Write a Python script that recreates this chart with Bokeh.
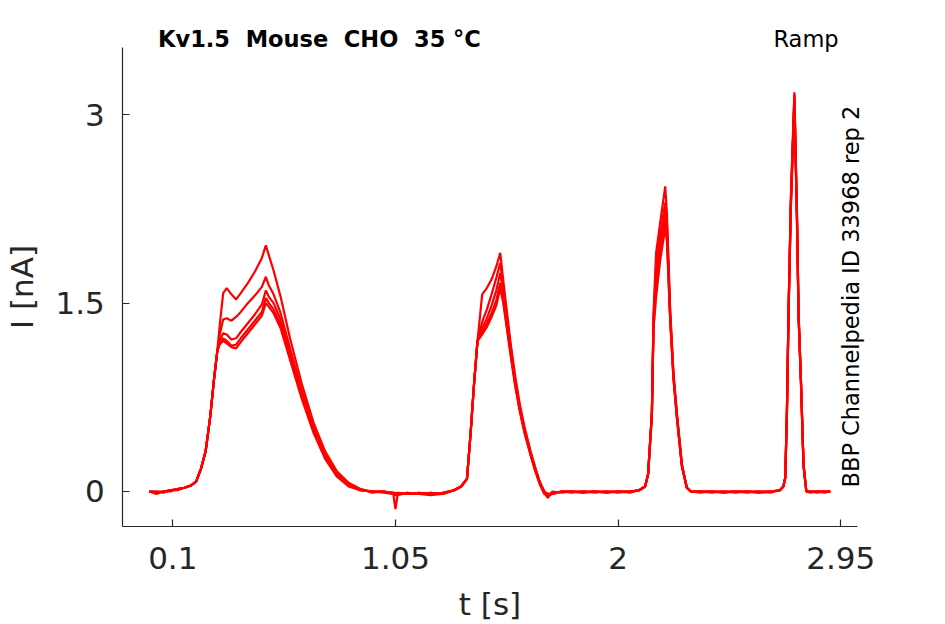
from bokeh.plotting import figure
from bokeh.models import Range1d, Label, FixedTicker
from bokeh.embed import file_html
from bokeh.resources import INLINE

# ---- data (time in s, current in nA) ----
T = [0.00, 0.03, 0.06, 0.09, 0.12, 0.15, 0.18, 0.20, 0.22, 0.24, 0.26, 0.275, 0.29,
     0.30, 0.315, 0.33, 0.35, 0.37, 0.39, 0.42, 0.45, 0.48, 0.497, 0.51, 0.53, 0.56,
     0.60, 0.65, 0.70, 0.75, 0.80, 0.85, 0.90, 0.95,
     1.00, 1.04, 1.05, 1.06, 1.10, 1.15, 1.20, 1.25, 1.30, 1.33, 1.355, 1.37, 1.385, 1.40,
     1.42, 1.44, 1.46, 1.48, 1.497, 1.51, 1.54, 1.56, 1.58, 1.60, 1.625, 1.645, 1.665,
     1.685, 1.70, 1.72, 1.76,
     1.80, 1.85, 1.90, 1.95, 2.00, 2.05, 2.09, 2.115, 2.128, 2.144, 2.151, 2.162, 2.18,
     2.201, 2.208, 2.222, 2.236, 2.251, 2.272, 2.293, 2.31, 2.35,
     2.40, 2.45, 2.50, 2.55, 2.60, 2.65, 2.69, 2.705, 2.713, 2.72, 2.727, 2.737, 2.752,
     2.763, 2.77, 2.78, 2.791, 2.803, 2.82, 2.85, 2.88, 2.905]

I_A = [0.00, -0.02, 0.00, 0.01, 0.02, 0.03, 0.05, 0.08, 0.18, 0.32, 0.60, 0.88, 1.12,
       1.32, 1.58, 1.62, 1.57, 1.53, 1.58, 1.66, 1.75, 1.86, 1.96, 1.88, 1.76, 1.55,
       1.22, 0.86, 0.55, 0.32, 0.16, 0.07, 0.02, 0.00,
       0.00, -0.01, -0.14, -0.01, -0.02, -0.01, -0.02, -0.01, 0.01, 0.04, 0.10, 0.45, 0.85, 1.20,
       1.57, 1.62, 1.69, 1.79, 1.90, 1.68, 1.20, 0.93, 0.70, 0.52, 0.33, 0.20, 0.08,
       0.00, -0.04, -0.01, 0.00,
       0.00, -0.01, 0.00, 0.00, -0.01, 0.00, 0.01, 0.04, 0.14, 0.62, 1.42, 1.90, 2.15,
       2.43, 2.22, 1.45, 0.95, 0.62, 0.22, 0.03, 0.00, -0.01,
       0.00, -0.01, 0.00, 0.00, -0.01, 0.00, 0.01, 0.04, 0.11, 0.62, 1.42, 2.35, 3.18,
       2.22, 1.42, 0.89, 0.22, 0.00, 0.00, -0.01, 0.00, 0.00]

I_B = [0.00, -0.01, 0.00, 0.01, 0.02, 0.03, 0.05, 0.08, 0.18, 0.32, 0.60, 0.88, 1.12,
       1.25, 1.37, 1.38, 1.36, 1.39, 1.43, 1.50, 1.56, 1.63, 1.71, 1.64, 1.57, 1.42,
       1.14, 0.81, 0.52, 0.30, 0.14, 0.06, 0.02, -0.01,
       0.00, -0.02, -0.03, -0.02, -0.02, -0.02, -0.01, -0.02, 0.01, 0.04, 0.10, 0.45, 0.85, 1.20,
       1.35, 1.45, 1.57, 1.70, 1.82, 1.63, 1.17, 0.90, 0.68, 0.50, 0.32, 0.19, 0.08,
       -0.01, -0.03, -0.02, 0.00,
       -0.01, 0.00, 0.00, -0.01, 0.00, 0.00, 0.01, 0.04, 0.14, 0.62, 1.38, 1.80, 2.05,
       2.30, 2.15, 1.42, 0.93, 0.60, 0.21, 0.03, 0.00, 0.00,
       -0.01, 0.00, 0.00, -0.01, 0.00, 0.00, 0.01, 0.04, 0.11, 0.62, 1.42, 2.32, 3.16,
       2.20, 1.40, 0.88, 0.21, 0.00, -0.01, 0.00, 0.00, 0.00]

I_C = [0.00, 0.00, -0.01, 0.01, 0.02, 0.03, 0.05, 0.08, 0.18, 0.32, 0.60, 0.88, 1.12,
       1.20, 1.26, 1.25, 1.21, 1.22, 1.27, 1.34, 1.41, 1.49, 1.60, 1.55, 1.50, 1.37,
       1.10, 0.78, 0.50, 0.28, 0.13, 0.05, 0.01, 0.00,
       -0.01, -0.02, -0.02, -0.03, -0.01, -0.02, -0.03, -0.02, 0.01, 0.04, 0.10, 0.45, 0.85, 1.20,
       1.30, 1.38, 1.48, 1.60, 1.74, 1.58, 1.14, 0.88, 0.66, 0.49, 0.31, 0.18, 0.07,
       -0.01, -0.05, 0.00, -0.01,
       0.00, 0.00, -0.01, 0.00, 0.00, -0.01, 0.01, 0.04, 0.14, 0.62, 1.35, 1.70, 1.98,
       2.24, 2.10, 1.40, 0.92, 0.60, 0.21, 0.03, 0.00, 0.00,
       0.00, 0.00, -0.01, 0.00, 0.00, -0.01, 0.01, 0.04, 0.11, 0.62, 1.42, 2.30, 3.14,
       2.18, 1.40, 0.88, 0.21, 0.00, 0.00, 0.00, -0.01, 0.00]

I_D = [0.00, -0.01, 0.00, 0.00, 0.02, 0.03, 0.05, 0.08, 0.18, 0.32, 0.60, 0.88, 1.12,
       1.18, 1.22, 1.20, 1.16, 1.17, 1.22, 1.29, 1.36, 1.43, 1.54, 1.50, 1.45, 1.33,
       1.07, 0.76, 0.48, 0.27, 0.12, 0.05, 0.01, 0.00,
       0.00, -0.01, -0.02, -0.01, -0.02, -0.01, -0.02, -0.01, 0.01, 0.04, 0.10, 0.45, 0.85, 1.20,
       1.27, 1.34, 1.42, 1.52, 1.66, 1.52, 1.12, 0.86, 0.65, 0.48, 0.30, 0.18, 0.07,
       0.00, -0.02, -0.01, 0.00,
       0.00, -0.01, 0.00, 0.00, 0.00, 0.00, 0.01, 0.04, 0.14, 0.62, 1.32, 1.60, 1.90,
       2.16, 2.05, 1.38, 0.90, 0.58, 0.20, 0.03, 0.00, 0.00,
       0.00, -0.01, 0.00, 0.00, 0.00, 0.00, 0.01, 0.04, 0.11, 0.62, 1.42, 2.28, 3.12,
       2.16, 1.38, 0.87, 0.20, 0.00, 0.00, 0.00, 0.00, 0.00]

I_E = [0.00, 0.00, 0.00, 0.01, 0.01, 0.03, 0.05, 0.08, 0.18, 0.32, 0.60, 0.88, 1.12,
       1.17, 1.20, 1.18, 1.15, 1.14, 1.19, 1.26, 1.33, 1.40, 1.50, 1.47, 1.42, 1.30,
       1.05, 0.74, 0.47, 0.26, 0.12, 0.04, 0.01, 0.00,
       0.00, -0.01, -0.01, -0.02, -0.01, -0.02, -0.01, -0.02, 0.01, 0.04, 0.10, 0.45, 0.85, 1.20,
       1.25, 1.31, 1.39, 1.48, 1.62, 1.50, 1.10, 0.85, 0.64, 0.47, 0.30, 0.17, 0.06,
       -0.02, -0.03, -0.02, 0.00,
       0.00, 0.00, 0.00, -0.01, 0.00, 0.00, 0.01, 0.04, 0.14, 0.62, 1.30, 1.55, 1.85,
       2.10, 2.00, 1.36, 0.90, 0.58, 0.20, 0.03, 0.00, 0.00,
       0.00, 0.00, 0.00, 0.00, -0.01, 0.00, 0.01, 0.04, 0.11, 0.62, 1.42, 2.26, 3.10,
       2.14, 1.38, 0.86, 0.20, 0.00, 0.00, 0.00, 0.00, 0.00]

TRACES = [I_A, I_B, I_C, I_D, I_E]

X_TICKS = [0.1, 1.05, 2.0, 2.95]
X_TICK_LABELS = ["0.1", "1.05", "2", "2.95"]
Y_TICKS = [0.0, 1.5, 3.0]
Y_TICK_LABELS = ["0", "1.5", "3"]

# double gaps kept with a no-break space so that SVG does not collapse them
TITLE = "Kv1.5\u00a0 Mouse\u00a0 CHO\u00a0 35 °C"
PROTOCOL = "Ramp"
SOURCE = "BBP Channelpedia ID 33968 rep 2"

# ---- layout (axis extents in data units) ----
X_VIEW = (-0.6351, 3.3967)     # whole canvas width
Y_VIEW = (-1.0592, 3.9102)     # whole canvas height
X_AXIS_SPAN = (-0.1133, 3.0199)
Y_AXIS_SPAN = (-0.2787, 3.5335)

AXIS_COLOR = "#262626"
FONT = "DejaVu Sans"

p = figure(width=945, height=624, output_backend="svg", toolbar_location=None,
           title=None,
           x_range=Range1d(*X_VIEW), y_range=Range1d(*Y_VIEW),
           min_border=0, min_border_left=0, min_border_right=0,
           min_border_top=0, min_border_bottom=0)

for tr in TRACES:
    p.line(T, tr, line_color="#ff0000", line_width=2.2)

p.xgrid.visible = False
p.ygrid.visible = False
p.outline_line_color = None
p.background_fill_color = "white"
p.border_fill_color = "white"

p.xaxis.ticker = FixedTicker(ticks=X_TICKS)
p.yaxis.ticker = FixedTicker(ticks=Y_TICKS)
p.xaxis.major_label_overrides = dict(zip(X_TICKS, X_TICK_LABELS))
p.yaxis.major_label_overrides = dict(zip(Y_TICKS, Y_TICK_LABELS))

p.xaxis.fixed_location = Y_AXIS_SPAN[0]
p.yaxis.fixed_location = X_AXIS_SPAN[0]
p.xaxis.bounds = X_AXIS_SPAN
p.yaxis.bounds = Y_AXIS_SPAN

for ax in (p.xaxis, p.yaxis):
    ax.axis_line_color = AXIS_COLOR
    ax.axis_line_width = 1.2
    ax.major_tick_line_color = AXIS_COLOR
    ax.major_tick_line_width = 1.2
    ax.minor_tick_line_color = None
    ax.major_tick_in = 7
    ax.major_tick_out = 0
    ax.major_label_text_font = FONT
    ax.major_label_text_font_size = "31px"
    ax.major_label_text_color = AXIS_COLOR
    ax.axis_label_text_font = FONT
    ax.axis_label_text_font_size = "31px"
    ax.axis_label_text_font_style = "normal"
    ax.axis_label_text_color = AXIS_COLOR

p.xaxis.axis_label = "t [s]"
p.yaxis.axis_label = "I [nA]"
p.xaxis.major_label_standoff = 21
p.yaxis.major_label_standoff = 18
p.xaxis.axis_label_standoff = 13
p.yaxis.axis_label_standoff = 12

p.add_layout(Label(x=0.037, y=3.600, text=TITLE, text_font=FONT,
                   text_font_size="22.5px", text_font_style="bold",
                   text_color="black", text_baseline="alphabetic",
                   text_align="left"))
p.add_layout(Label(x=2.6628, y=3.600, text=PROTOCOL, text_font=FONT,
                   text_font_size="22.5px", text_color="black",
                   text_baseline="alphabetic", text_align="left"))
p.add_layout(Label(x=2.9914, y=0.032, text=SOURCE, text_font=FONT,
                   text_font_size="22.5px", text_color="black",
                   text_baseline="alphabetic", text_align="left",
                   angle=1.5707963267948966))

open("out.html", "w").write(file_html(p, INLINE))
